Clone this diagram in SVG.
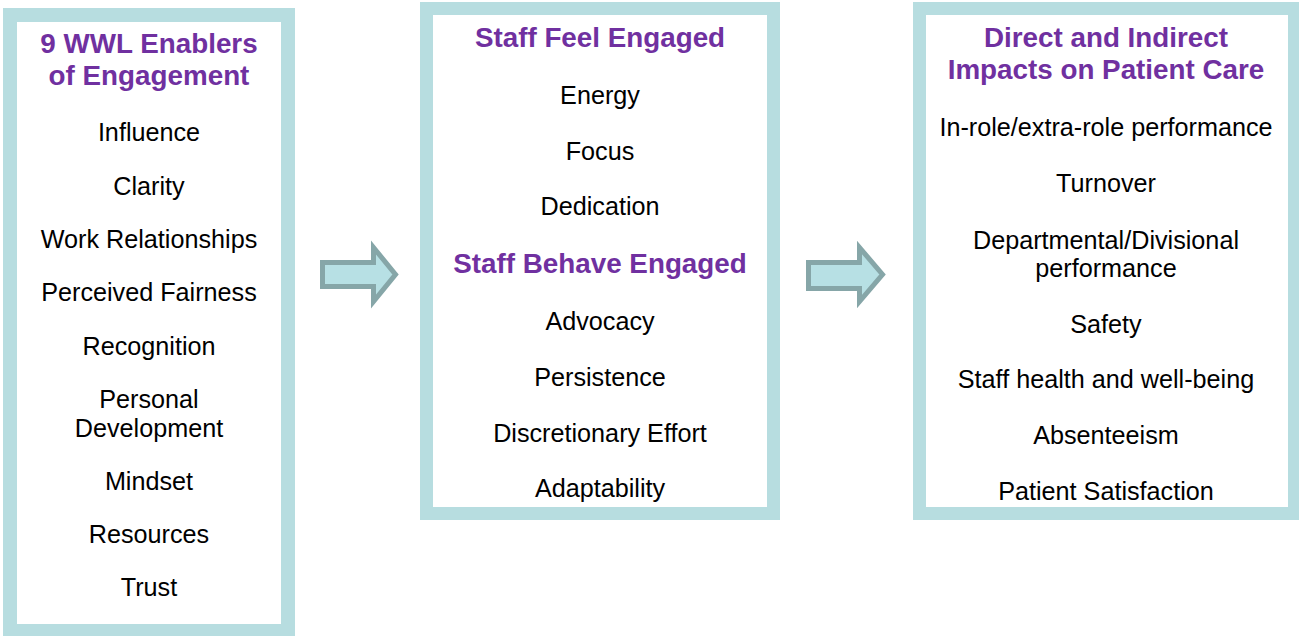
<svg xmlns="http://www.w3.org/2000/svg" width="1299" height="636" viewBox="0 0 1299 636">
  <style>
    .box { fill: #ffffff; stroke: #b7dde0; }
    .title { font-family: "Liberation Sans", Arial, sans-serif; font-weight: bold; font-size: 27.8px; fill: #7030a0; text-anchor: middle; }
    .item { font-family: "Liberation Sans", Arial, sans-serif; font-size: 25.2px; fill: #000000; text-anchor: middle; }
    .arrow { fill: #b7e0e4; stroke: #86a6a8; stroke-width: 5; stroke-linejoin: miter; }
  </style>
  <rect width="1299" height="636" fill="#ffffff"/>

  <!-- Column 1: enablers -->
  <g id="enablers">
    <rect class="box" x="10" y="15" width="278" height="616" stroke-width="14"/>
    <text class="title" x="149" y="53">9 WWL Enablers</text>
    <text class="title" x="149" y="85">of Engagement</text>
    <text class="item" x="149" y="141">Influence</text>
    <text class="item" x="149" y="195">Clarity</text>
    <text class="item" x="149" y="248">Work Relationships</text>
    <text class="item" x="149" y="301">Perceived Fairness</text>
    <text class="item" x="149" y="355">Recognition</text>
    <text class="item" x="149" y="408">Personal</text>
    <text class="item" x="149" y="437">Development</text>
    <text class="item" x="149" y="490">Mindset</text>
    <text class="item" x="149" y="543">Resources</text>
    <text class="item" x="149" y="596">Trust</text>
  </g>

  <!-- Column 2: engagement -->
  <g id="engagement">
    <rect class="box" x="426.5" y="8.5" width="347" height="505" stroke-width="13"/>
    <text class="title" x="600" y="47">Staff Feel Engaged</text>
    <text class="item" x="600" y="104">Energy</text>
    <text class="item" x="600" y="160">Focus</text>
    <text class="item" x="600" y="215">Dedication</text>
    <text class="title" x="600" y="273">Staff Behave Engaged</text>
    <text class="item" x="600" y="330">Advocacy</text>
    <text class="item" x="600" y="386">Persistence</text>
    <text class="item" x="600" y="442">Discretionary Effort</text>
    <text class="item" x="600" y="497">Adaptability</text>
  </g>

  <!-- Column 3: impacts -->
  <g id="impacts">
    <rect class="box" x="919.5" y="8.5" width="375" height="505" stroke-width="13"/>
    <text class="title" x="1106" y="47">Direct and Indirect</text>
    <text class="title" x="1106" y="79">Impacts on Patient Care</text>
    <text class="item" x="1106" y="136">In-role/extra-role performance</text>
    <text class="item" x="1106" y="192">Turnover</text>
    <text class="item" x="1106" y="249">Departmental/Divisional</text>
    <text class="item" x="1106" y="277">performance</text>
    <text class="item" x="1106" y="333">Safety</text>
    <text class="item" x="1106" y="388">Staff health and well-being</text>
    <text class="item" x="1106" y="444">Absenteeism</text>
    <text class="item" x="1106" y="500">Patient Satisfaction</text>
  </g>

  <!-- Block arrows between columns -->
  <g id="connectors">
    <polygon class="arrow" points="322.5,262.5 373.5,262.5 373.5,247.5 395.5,274.5 373.5,301.5 373.5,286.5 322.5,286.5"/>
    <polygon class="arrow" points="808.5,262.5 859.5,262.5 859.5,247.5 882.5,274.5 859.5,301.5 859.5,288.5 808.5,288.5"/>
  </g>
</svg>
